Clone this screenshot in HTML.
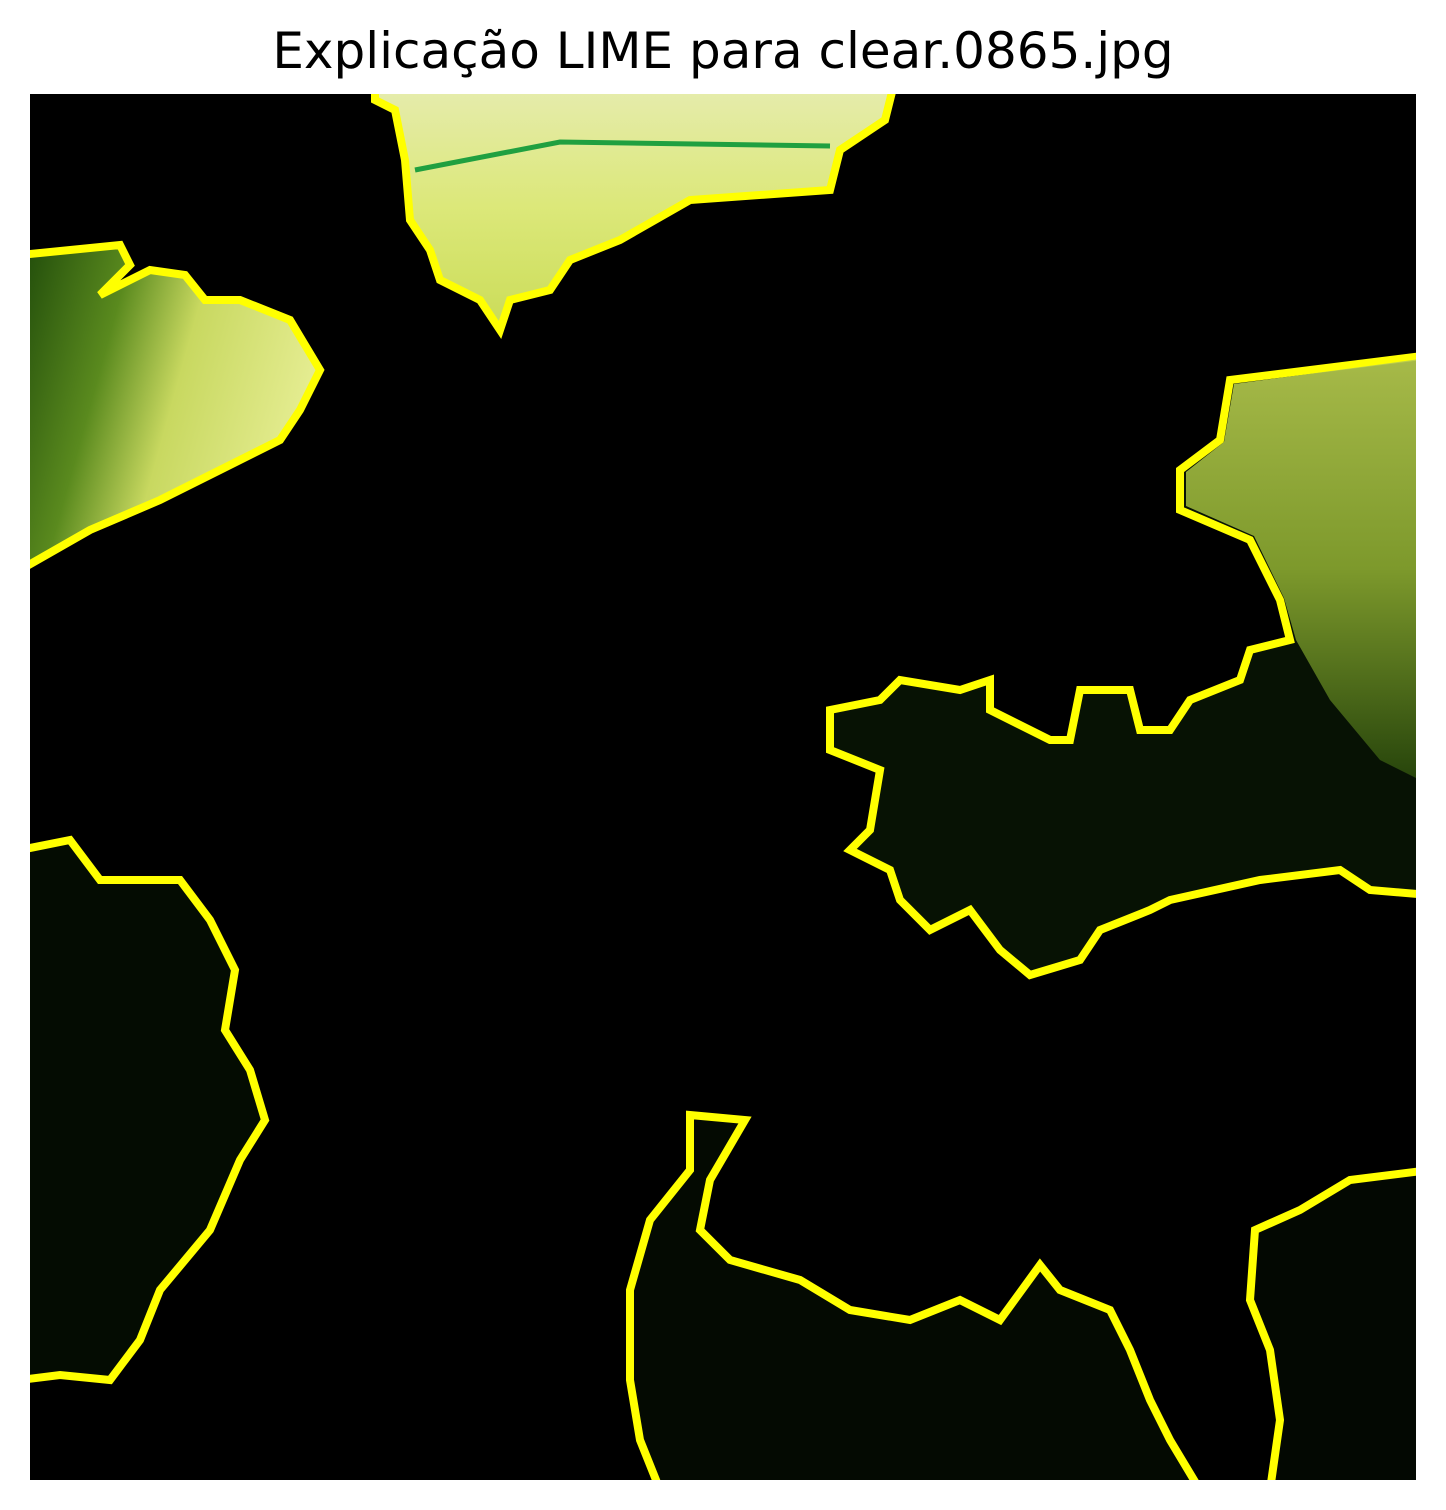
<!DOCTYPE html>
<html>
<head>
<meta charset="utf-8">
<style>
html,body{margin:0;padding:0;background:#fff;}
#wrap{position:relative;width:1446px;height:1510px;overflow:hidden;}
</style>
</head>
<body>
<div id="wrap">
<svg width="1446" height="1510" viewBox="0 0 1446 1510" xmlns="http://www.w3.org/2000/svg">
  <defs>
    <clipPath id="imgClip"><rect x="30" y="94" width="1386" height="1386"/></clipPath>
    <linearGradient id="gTL" x1="0" y1="0" x2="1" y2="0.3">
      <stop offset="0" stop-color="#1f4a0a"/>
      <stop offset="0.35" stop-color="#5a8a1e"/>
      <stop offset="0.6" stop-color="#c8d860"/>
      <stop offset="1" stop-color="#e4ec90"/>
    </linearGradient>
    <linearGradient id="gTop" x1="0" y1="0" x2="0" y2="1">
      <stop offset="0" stop-color="#e6ecb0"/>
      <stop offset="0.5" stop-color="#dce87a"/>
      <stop offset="1" stop-color="#cadc58"/>
    </linearGradient>
    <linearGradient id="gR" x1="0" y1="0" x2="0" y2="1">
      <stop offset="0" stop-color="#b8cc50"/>
      <stop offset="0.5" stop-color="#8aa830"/>
      <stop offset="1" stop-color="#2a4a0c"/>
    </linearGradient>
  </defs>
  <text x="723" y="68" text-anchor="middle" font-family="DejaVu Sans, Liberation Sans, sans-serif" font-size="50" fill="#000">Explicação LIME para clear.0865.jpg</text>
  <rect x="30" y="94" width="1386" height="1386" fill="#000"/>
  <g clip-path="url(#imgClip)">
  <g stroke="#ffff00" stroke-width="8" stroke-linejoin="miter">
    <polygon fill="url(#gTop)" points="375,80 895,80 885,120 840,150 830,190 690,200 620,240 570,260 550,290 510,300 500,330 480,300 440,280 430,250 410,220 405,160 395,110 375,100"/>
    <polygon fill="url(#gTL)" points="20,255 120,245 130,265 100,295 150,270 185,275 205,300 240,300 290,320 320,370 300,410 280,440 220,470 160,500 90,530 20,570"/>
    <polygon fill="#071204" points="1430,355 1230,380 1220,440 1180,470 1180,510 1250,540 1280,600 1290,640 1250,650 1240,680 1190,700 1170,730 1140,730 1130,690 1080,690 1070,740 1050,740 990,710 990,680 960,690 900,680 880,700 830,710 830,750 880,770 870,830 850,850 890,870 900,900 930,930 970,910 1000,950 1030,975 1080,960 1100,930 1150,910 1170,900 1260,880 1340,870 1370,890 1430,895"/>
    <polygon fill="#040c02" points="20,850 70,840 100,880 180,880 210,920 235,970 225,1030 250,1070 265,1120 240,1160 210,1230 160,1290 140,1340 110,1380 60,1375 20,1380"/>
    <polygon fill="#040a02" points="690,1115 745,1120 710,1180 700,1230 730,1260 800,1280 850,1310 910,1320 960,1300 1000,1320 1040,1265 1060,1290 1110,1310 1130,1350 1150,1400 1170,1440 1200,1490 660,1490 640,1440 630,1380 630,1290 650,1220 690,1170"/>
    <polygon fill="#030802" points="1430,1170 1350,1180 1300,1210 1255,1230 1250,1300 1270,1350 1280,1420 1270,1490 1430,1490"/>
  </g>
  <polygon fill="url(#gR)" opacity="0.9" points="1420,359 1234,384 1224,442 1186,472 1186,506 1254,536 1284,598 1296,640 1330,700 1380,760 1420,780"/>
  <polyline points="415,170 560,142 830,146" fill="none" stroke="#20a040" stroke-width="5"/>
  </g>
</svg>
</div>
</body>
</html>
